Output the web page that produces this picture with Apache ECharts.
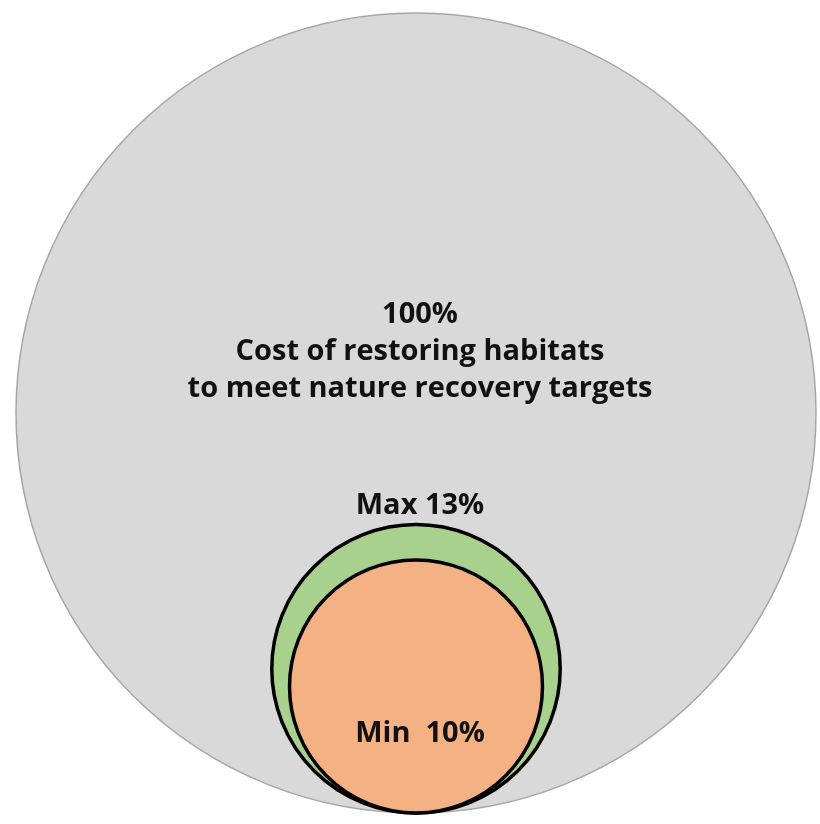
<!DOCTYPE html>
<html>
<head>
<meta charset="utf-8">
<script src="https://cdn.jsdelivr.net/npm/echarts@6/dist/echarts.min.js"></script>
<style>
  html, body { margin: 0; padding: 0; background: #fff; }
  #chart { width: 820px; height: 824px; }
</style>
</head>
<body>
<div id="chart"></div>
<script>
// share of the full restoration cost (circle area is proportional to it)
const names = ['total', 'max', 'min']
const shares = [100, 13, 10]
const labels = [
  '100%\nCost of restoring habitats\nto meet nature recovery targets',
  'Max 13%',
  'Min  10%'
]

const fills = ['#d9d9d9', '#a9d18e', '#f4b183']
const strokes = ['#a6a6a6', '#000000', '#000000']
const strokeW = [1.5, 3.5, 3.5]

const chart = echarts.init(document.getElementById('chart'))

chart.setOption({
  animation: false,
  grid: { left: 16, right: 4, top: 13, bottom: 11 },
  xAxis: { type: 'value', min: -1, max: 1, show: false },
  yAxis: { type: 'value', min: 0, max: 2, show: false },
  series: [{
    type: 'custom',
    coordinateSystem: 'cartesian2d',
    data: shares.map((v, i) => ({ name: names[i], value: [v] })),
    renderItem: function (params, api) {
      const i = params.dataIndex
      const r = Math.sqrt(api.value(0) / 100)
      // circles sit on a common baseline
      const c = api.coord([0, r])
      const e = api.coord([r, r])
      const rp = e[0] - c[0]
      let ty
      if (i === 0) ty = c[1] - rp * 0.152
      else if (i === 1) ty = c[1] - rp - 19
      else ty = c[1] + rp * 0.37
      return {
        type: 'group',
        children: [{
          type: 'circle',
          shape: { cx: c[0], cy: c[1], r: rp },
          style: { fill: fills[i], stroke: strokes[i], lineWidth: strokeW[i] }
        }, {
          type: 'text',
          z2: 10,
          style: {
            x: c[0] + 4, y: ty,
            text: labels[i],
            align: 'center',
            verticalAlign: 'middle',
            fill: '#111',
            font: 'bold 29px "Open Sans", sans-serif',
            lineHeight: 37
          }
        }]
      }
    }
  }]
})
</script>
</body>
</html>
